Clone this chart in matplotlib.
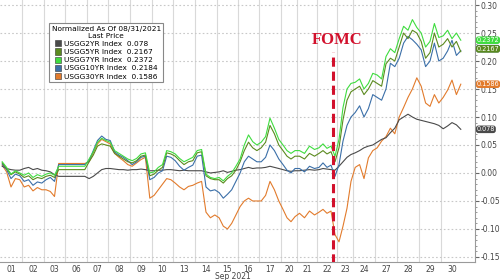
import numpy as np
import matplotlib.pyplot as plt
from matplotlib.patches import Patch

days = ['01', '02', '03', '06', '07', '08', '09', '10', '13', '14', '15',
        '16', '17', '20', '21', '22', '23', '24', '27', '28', '29', '30']
# intraday bars per session (width of each day on the chart)
bars_per_day = [22, 22, 21, 22, 21, 22, 22, 21, 22, 22, 21, 21,
                22, 16, 20, 20, 16, 22, 22, 22, 22, 22]

# yield change vs 08/31/2021 close, a few readings per session
usgg2yr = [
    [0.012, 0.008, 0.006, 0.005, 0.005], [0.008, 0.010, 0.006, 0.008, 0.005],
    [0.004, 0.002, -0.003, -0.006, -0.006], [-0.006, -0.006, -0.006, -0.006, -0.006],
    [-0.010, -0.006, 0.000, 0.006, 0.008], [0.008, 0.007, 0.006, 0.006, 0.005],
    [0.006, 0.006, 0.007, 0.006, 0.004], [0.004, 0.005, 0.005, 0.006, 0.006],
    [0.005, 0.004, 0.005, 0.004, 0.004], [0.004, 0.004, 0.002, 0.000, 0.001],
    [0.002, 0.004, 0.001, 0.003, 0.005], [0.006, 0.008, 0.010, 0.008, 0.009],
    [0.009, 0.010, 0.012, 0.010, 0.008], [0.006, 0.004, 0.003, 0.004],
    [0.004, 0.005, 0.006, 0.005], [0.006, 0.008, 0.007, 0.006, 0.005],
    [0.012, 0.020, 0.028, 0.033], [0.036, 0.040, 0.045, 0.048, 0.050],
    [0.055, 0.060, 0.063, 0.072, 0.080], [0.095, 0.100, 0.105, 0.100, 0.096],
    [0.094, 0.092, 0.090, 0.088, 0.085], [0.079, 0.084, 0.090, 0.086, 0.078],
]
usgg5yr = [
    [0.018, 0.008, -0.003, 0.002, -0.002], [-0.008, -0.005, -0.012, -0.008, -0.010],
    [-0.006, -0.004, -0.008, 0.006, 0.006], [0.006, 0.006, 0.006, 0.006, 0.006],
    [0.020, 0.032, 0.048, 0.052, 0.050], [0.048, 0.035, 0.030, 0.025, 0.020],
    [0.018, 0.022, 0.030, 0.032, -0.005], [-0.002, 0.005, 0.010, 0.036, 0.034],
    [0.030, 0.022, 0.015, 0.020, 0.022], [0.036, 0.038, -0.005, -0.010, -0.012],
    [-0.012, -0.018, -0.010, -0.005, 0.005], [0.020, 0.040, 0.055, 0.045, 0.040],
    [0.045, 0.055, 0.085, 0.070, 0.050], [0.040, 0.030, 0.025, 0.030],
    [0.030, 0.025, 0.035, 0.030], [0.035, 0.040, 0.034, 0.038, 0.020],
    [0.045, 0.095, 0.130, 0.145], [0.150, 0.155, 0.140, 0.150, 0.165],
    [0.160, 0.155, 0.195, 0.205, 0.200], [0.225, 0.250, 0.240, 0.255, 0.250],
    [0.235, 0.205, 0.215, 0.250, 0.225], [0.230, 0.240, 0.225, 0.235, 0.2167],
]
usgg7yr = [
    [0.020, 0.010, -0.002, 0.004, 0.000], [-0.004, 0.000, -0.008, -0.003, -0.006],
    [-0.002, 0.000, -0.004, 0.012, 0.012], [0.012, 0.012, 0.012, 0.012, 0.012],
    [0.025, 0.038, 0.055, 0.062, 0.058], [0.055, 0.040, 0.035, 0.030, 0.025],
    [0.022, 0.026, 0.034, 0.036, 0.000], [0.002, 0.010, 0.015, 0.040, 0.038],
    [0.034, 0.026, 0.020, 0.024, 0.028], [0.040, 0.042, -0.002, -0.008, -0.010],
    [-0.008, -0.014, -0.006, 0.000, 0.012], [0.025, 0.050, 0.068, 0.056, 0.050],
    [0.055, 0.065, 0.098, 0.080, 0.060], [0.050, 0.040, 0.035, 0.040],
    [0.040, 0.035, 0.048, 0.042], [0.045, 0.052, 0.044, 0.048, 0.030],
    [0.060, 0.117, 0.150, 0.160], [0.162, 0.168, 0.150, 0.160, 0.178],
    [0.175, 0.168, 0.208, 0.222, 0.215], [0.240, 0.262, 0.255, 0.274, 0.260],
    [0.250, 0.225, 0.235, 0.267, 0.242], [0.245, 0.255, 0.240, 0.250, 0.2372],
]
usgg10yr = [
    [0.016, 0.006, -0.010, -0.002, -0.005], [-0.015, -0.012, -0.022, -0.016, -0.018],
    [-0.012, -0.008, -0.015, 0.015, 0.015], [0.015, 0.015, 0.015, 0.015, 0.015],
    [0.022, 0.040, 0.058, 0.066, 0.060], [0.058, 0.038, 0.032, 0.028, 0.022],
    [0.015, 0.020, 0.028, 0.030, -0.012], [-0.008, 0.000, 0.004, 0.030, 0.028],
    [0.022, 0.012, 0.005, 0.010, 0.014], [0.030, 0.032, -0.025, -0.032, -0.030],
    [-0.035, -0.045, -0.038, -0.030, -0.015], [0.000, 0.020, 0.030, 0.025, 0.020],
    [0.020, 0.028, 0.050, 0.040, 0.025], [0.015, 0.005, 0.000, 0.008],
    [0.008, 0.002, 0.012, 0.008], [0.010, 0.018, 0.010, 0.014, -0.006],
    [0.015, 0.057, 0.085, 0.100], [0.108, 0.120, 0.100, 0.115, 0.140],
    [0.135, 0.130, 0.150, 0.196, 0.190], [0.205, 0.232, 0.244, 0.238, 0.230],
    [0.220, 0.190, 0.200, 0.232, 0.200], [0.205, 0.218, 0.237, 0.210, 0.2184],
]
usgg30yr = [
    [0.014, 0.002, -0.025, -0.010, -0.012], [-0.025, -0.022, -0.032, -0.026, -0.030],
    [-0.030, -0.033, -0.042, 0.017, 0.017], [0.017, 0.017, 0.017, 0.017, 0.017],
    [0.020, 0.036, 0.052, 0.060, 0.056], [0.052, 0.035, 0.028, 0.022, 0.015],
    [0.012, 0.018, 0.024, 0.028, -0.045], [-0.040, -0.030, -0.020, -0.010, -0.012],
    [-0.018, -0.025, -0.030, -0.024, -0.022], [-0.018, -0.015, -0.070, -0.080, -0.075],
    [-0.080, -0.095, -0.100, -0.090, -0.075], [-0.060, -0.050, -0.045, -0.050, -0.050],
    [-0.050, -0.040, -0.015, -0.030, -0.050], [-0.065, -0.080, -0.087, -0.078],
    [-0.072, -0.080, -0.068, -0.075], [-0.070, -0.065, -0.072, -0.068, -0.110],
    [-0.123, -0.095, -0.063, -0.015], [0.010, 0.015, -0.010, 0.027, 0.040],
    [0.045, 0.057, 0.065, 0.080, 0.070], [0.100, 0.117, 0.135, 0.150, 0.170],
    [0.155, 0.125, 0.119, 0.140, 0.125], [0.135, 0.148, 0.166, 0.140, 0.1586],
]

names = ['USGG2YR Index', 'USGG5YR Index', 'USGG7YR Index',
         'USGG10YR Index', 'USGG30YR Index']
last_price = ['0.078', '0.2167', '0.2372', '0.2184', '0.1586']
colors = ['#4a4a4a', '#5b8a1f', '#3fdc3f', '#3b6fa8', '#e27b2c']
fomc_day = '22'
fomc_frac = 0.8  # 2pm ET within the session

bounds = np.concatenate([[0], np.cumsum(bars_per_day)])


def day_x(series):
    xs, ys = [], []
    for i, vals in enumerate(series):
        w = bounds[i + 1] - bounds[i]
        m = len(vals)
        xs += [bounds[i] + (k + 0.5) * w / m for k in range(m)]
        ys += vals
    return np.array(xs), np.array(ys)


fig = plt.figure(figsize=(5, 2.8), dpi=100)
ax = fig.add_axes([0.0, 18 / 280, 475 / 500, 262 / 280])

for b in bounds[1:-1]:
    ax.axvline(b, color='#d9d9d9', lw=0.8, zorder=0)
for y in np.arange(-0.15, 0.31, 0.05):
    ax.axhline(y, color='#c8c8c8', lw=0.8, ls=(0, (1.5, 2)), zorder=0)

all_series = [usgg2yr, usgg5yr, usgg7yr, usgg10yr, usgg30yr]
order = [4, 0, 3, 1, 2]
for i in order:
    x, y = day_x(all_series[i])
    ax.plot(x, y, color=colors[i], lw=0.8, zorder=2)

# FOMC marker
i_f = days.index(fomc_day)
x_f = bounds[i_f] + fomc_frac * bars_per_day[i_f]
ax.plot([x_f, x_f], [-0.16, 0.216], color='#d2102c', lw=2.2,
        ls=(0, (3, 1.6)), zorder=3)
ax.text(x_f + 4, 0.237, 'FOMC', color='#d2102c', fontsize=12,
        fontweight='bold', family='Liberation Serif', ha='center',
        va='center')

ax.set_xlim(0, 475)
ax.set_ylim(-0.159, 0.309)
centers = (bounds[:-1] + bounds[1:]) / 2
ax.set_xticks(centers)
ax.set_xticklabels(days)
ax.tick_params(axis='x', length=0, pad=2, labelsize=5.5, labelcolor='#444444')
ax.yaxis.tick_right()
ax.set_yticks(np.arange(-0.15, 0.31, 0.05))
ax.set_yticks(np.arange(-0.15, 0.31, 0.01), minor=True)
ax.yaxis.set_major_formatter(plt.FuncFormatter(lambda v, p: f'{v:.2f}'))
ax.tick_params(axis='y', which='major', length=3, width=0.8, pad=1,
               labelsize=5.5, labelcolor='#444444', color='#666666')
ax.tick_params(axis='y', which='minor', length=1.5, width=0.6,
               color='#888888')
for s in ['top', 'left']:
    ax.spines[s].set_visible(False)
for s in ['right', 'bottom']:
    ax.spines[s].set_color('#9a9a9a')
    ax.spines[s].set_linewidth(0.8)

ax.text(233, -0.1855, 'Sep 2021', fontsize=5.5, color='#444444',
        ha='center', va='center', transform=ax.transData, clip_on=False)

# last price tags on the right axis
tag_offsets = [0, 2, 0, 1.5, 0]
for i in [3, 0, 4, 1, 2]:
    ax.annotate(last_price[i], xy=(1.0, float(last_price[i])),
                xycoords=('axes fraction', 'data'),
                xytext=(1.2, tag_offsets[i]), textcoords='offset points',
                ha='left', va='center', fontsize=4.7, color='white',
                bbox=dict(boxstyle='round,pad=0.12,rounding_size=0.4',
                          fc=colors[i], ec='none'),
                annotation_clip=False, zorder=5)

leg_font = {'family': ['Liberation Sans Narrow', 'DejaVu Sans'], 'size': 5.3}
handles = [Patch(facecolor=c, edgecolor='#333333', lw=0.4) for c in colors]
labels = [f'{n}  {v}' for n, v in zip(names, last_price)]
leg = ax.legend(handles, labels, loc='upper left',
                bbox_to_anchor=(49 / 475, 1 - 23 / 262), borderaxespad=0,
                title='Normalized As Of 08/31/2021\nLast Price',
                prop=leg_font, title_fontproperties=leg_font,
                handlelength=0.9, handleheight=0.9, handletextpad=0.4,
                labelspacing=0.22, borderpad=0.35, fancybox=False,
                framealpha=1, edgecolor='#888888')
leg.get_frame().set_linewidth(0.8)
leg.get_title().set_multialignment('center')

fig.savefig('out.png', dpi=100, facecolor='white')
